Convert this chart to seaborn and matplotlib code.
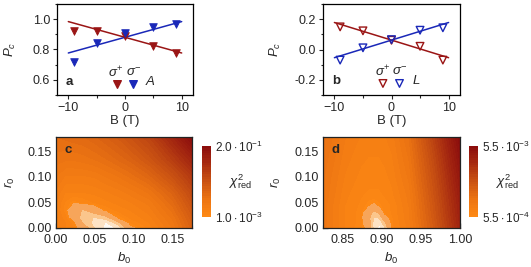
import numpy as np
import pandas as pd
import matplotlib
matplotlib.use("Agg")
import matplotlib.pyplot as plt
import seaborn as sns
from matplotlib.colors import LinearSegmentedColormap, ListedColormap, Normalize
from matplotlib.cm import ScalarMappable
from matplotlib.ticker import MultipleLocator, FormatStrFormatter

# ---------------- data ----------------
field_B = [-9, -5, 0, 5, 9]
a_sigma_plus = [0.924, 0.924, 0.888, 0.821, 0.777]
a_sigma_minus = [0.716, 0.844, 0.906, 0.946, 0.966]
b_sigma_plus = [0.149, 0.123, 0.061, 0.021, -0.070]
b_sigma_minus = [-0.070, 0.011, 0.065, 0.127, 0.143]
fit_B = [-10, 10]
a_fit_plus = [0.984, 0.777]
a_fit_minus = [0.777, 0.984]
b_fit_plus = [0.178, -0.054]
b_fit_minus = [-0.054, 0.178]

# chi^2 maps (level 0 = colorbar bottom, 1 = colorbar top, <0 = lighter than bottom)
c_b0 = [0, 0.012, 0.022, 0.035, 0.05, 0.065, 0.08, 0.095, 0.12, 0.15, 0.175]
c_r0 = [0, 0.01, 0.02, 0.035, 0.05, 0.07, 0.1, 0.135, 0.178]
c_level = [
    [0.12, 0.10, 0.07, -0.11, -0.62, -0.95, -0.80, -0.05, 0.08, 0.20, 0.38],
    [0.13, 0.10, 0.05, -0.40, -0.70, -0.86, -0.45, 0.03, 0.10, 0.22, 0.40],
    [0.14, 0.08, -0.10, -0.50, -0.62, -0.45, 0.00, 0.07, 0.12, 0.24, 0.42],
    [0.14, 0.04, -0.20, -0.38, -0.14, 0.04, 0.08, 0.10, 0.15, 0.28, 0.46],
    [0.14, 0.06, 0.01, 0.04, 0.07, 0.09, 0.11, 0.13, 0.18, 0.32, 0.50],
    [0.16, 0.10, 0.10, 0.10, 0.11, 0.13, 0.15, 0.18, 0.24, 0.38, 0.56],
    [0.20, 0.16, 0.16, 0.16, 0.17, 0.20, 0.23, 0.27, 0.35, 0.50, 0.66],
    [0.25, 0.24, 0.24, 0.25, 0.27, 0.30, 0.34, 0.38, 0.48, 0.64, 0.80],
    [0.30, 0.31, 0.32, 0.33, 0.36, 0.40, 0.44, 0.50, 0.60, 0.80, 1.00],
]
d_b0 = [0.825, 0.853, 0.873, 0.883, 0.890, 0.897, 0.904, 0.913, 0.935, 0.965, 1.0]
d_r0 = [0, 0.01, 0.02, 0.03, 0.045, 0.065, 0.1, 0.14, 0.178]
d_level = [
    [0.22, 0.10, 0.04, -0.05, -0.70, -0.92, -0.62, 0.05, 0.15, 0.42, 0.80],
    [0.22, 0.10, 0.05, -0.19, -0.70, -0.80, -0.41, 0.06, 0.15, 0.43, 0.81],
    [0.22, 0.10, 0.05, -0.25, -0.62, -0.58, -0.11, 0.06, 0.16, 0.44, 0.82],
    [0.22, 0.10, 0.05, -0.19, -0.45, -0.30, 0.04, 0.07, 0.16, 0.45, 0.83],
    [0.22, 0.10, 0.06, 0.01, -0.03, 0.02, 0.05, 0.07, 0.17, 0.46, 0.84],
    [0.23, 0.11, 0.07, 0.06, 0.06, 0.06, 0.07, 0.09, 0.18, 0.48, 0.86],
    [0.24, 0.13, 0.09, 0.08, 0.08, 0.08, 0.09, 0.11, 0.21, 0.51, 0.90],
    [0.26, 0.15, 0.11, 0.10, 0.10, 0.10, 0.11, 0.13, 0.24, 0.55, 0.95],
    [0.28, 0.17, 0.13, 0.12, 0.12, 0.12, 0.13, 0.15, 0.27, 0.60, 1.00],
]
c_cbar_labels = [r"$1.0\cdot10^{-3}$", r"$2.0\cdot10^{-1}$"]
d_cbar_labels = [r"$5.5\cdot10^{-4}$", r"$5.5\cdot10^{-3}$"]

# ---------------- style ----------------
sns.set_theme(style="ticks")
plt.rcParams["font.family"] = ["Liberation Sans", "DejaVu Sans"]
plt.rcParams["mathtext.fontset"] = "custom"
plt.rcParams["mathtext.rm"] = "Liberation Sans"
plt.rcParams["mathtext.it"] = "Liberation Sans:italic"
plt.rcParams["mathtext.bf"] = "Liberation Sans:bold"
plt.rcParams["axes.edgecolor"] = "black"
plt.rcParams["axes.linewidth"] = 0.9

RED = "#9a1515"
BLUE = "#1a28b8"
TICK_FS = 9
LAB_FS = 9.5

fig = plt.figure(figsize=(5.31, 2.67), dpi=100)
W, H = 531, 267


def px_axes(x0, y0, x1, y1):
    return fig.add_axes([x0 / W, 1 - y1 / H, (x1 - x0) / W, (y1 - y0) / H])


ax_a = px_axes(57, 4, 193, 95)
ax_b = px_axes(323, 4, 460, 95)
ax_c = px_axes(56, 137, 192, 228)
ax_d = px_axes(323, 137, 460, 228)
cax_c = px_axes(202, 146, 211, 217)
cax_d = px_axes(469, 146, 478, 217)


def line_panel(ax, yp, ym, fp, fm, filled, ylim, ymaj, letter, tag, leg_y, sig_y, tag_y):
    df = pd.DataFrame({
        "B": field_B * 2,
        "Pc": yp + ym,
        "pol": ["s+"] * len(field_B) + ["s-"] * len(field_B),
    })
    ax.plot(fit_B, fp, color=RED, lw=1.1, zorder=2)
    ax.plot(fit_B, fm, color=BLUE, lw=1.1, zorder=2)
    for pol, col in (("s+", RED), ("s-", BLUE)):
        sub = df[df.pol == pol]
        if filled:
            sns.scatterplot(data=sub, x="B", y="Pc", ax=ax, marker="v", s=30,
                            color=col, edgecolor=col, linewidth=0.6, zorder=3, legend=False)
        else:
            sns.scatterplot(data=sub, x="B", y="Pc", ax=ax, marker="v", s=30,
                            facecolor="none", edgecolor=col, linewidth=1.0, zorder=3, legend=False)
    # legend-like annotation
    for xx, col in ((-1.5, RED), (1.4, BLUE)):
        if filled:
            ax.scatter([xx], [leg_y], marker="v", s=30, color=col, zorder=3)
        else:
            ax.scatter([xx], [leg_y], marker="v", s=30, facecolor="none", edgecolor=col,
                       linewidths=1.0, zorder=3)
    ax.text(-1.6, sig_y, r"$\sigma^{+}$", ha="center", va="center", fontsize=9.5)
    ax.text(1.5, sig_y, r"$\sigma^{-}$", ha="center", va="center", fontsize=9.5)
    ax.text(4.4, tag_y, tag, ha="center", va="center", fontsize=9.5, style="italic")
    ax.text(-10.4, tag_y, letter, ha="left", va="center", fontsize=9.5, fontweight="bold")
    ax.set_xlim(-12, 12)
    ax.set_ylim(*ylim)
    ax.xaxis.set_major_locator(MultipleLocator(10))
    ax.xaxis.set_minor_locator(MultipleLocator(5))
    ax.yaxis.set_major_locator(MultipleLocator(ymaj))
    ax.yaxis.set_minor_locator(MultipleLocator(ymaj / 2))
    ax.yaxis.set_major_formatter(FormatStrFormatter("%.1f"))
    ax.tick_params(which="major", direction="out", length=3, width=0.8, labelsize=TICK_FS, pad=2)
    ax.tick_params(which="minor", direction="out", length=1.8, width=0.8)
    ax.set_xlabel("B (T)", fontsize=LAB_FS)
    ax.set_ylabel(r"$P_c$", fontsize=LAB_FS)
    ax.xaxis.set_label_coords(0.5, -0.22)
    ax.yaxis.set_label_coords(-0.29, 0.5)
    for s in ax.spines.values():
        s.set_visible(True)


line_panel(ax_a, a_sigma_plus, a_sigma_minus, a_fit_plus, a_fit_minus, True,
           (0.5, 1.1), 0.2, "a", "A", 0.571, 0.649, 0.586)
ax_a.set_yticks([0.6, 0.8, 1.0])
line_panel(ax_b, b_sigma_plus, b_sigma_minus, b_fit_plus, b_fit_minus, False,
           (-0.3, 0.3), 0.2, "b", "L", -0.224, -0.148, -0.207)

# ---------------- heat maps ----------------
upper_cmap = LinearSegmentedColormap.from_list("chi", [
    (0.00, "#ff8a14"),
    (0.25, "#ec7412"),
    (0.55, "#c44c12"),
    (0.80, "#a22410"),
    (1.00, "#8a0c0c"),
])
N_UP = 30
upper_colors = [upper_cmap((i + 0.5) / N_UP) for i in range(N_UP)]
low_colors = ["#fffaf4", "#fde2c4", "#fbc68c", "#f7a55a"]
levels = [-1.0, -0.84, -0.6, -0.35] + list(np.linspace(0, 1.0, N_UP + 1)[:-1]) + [1.001]


def heat_panel(ax, cax, b0, r0, lev, xlim, letter, cb_labels):
    B0, R0 = np.meshgrid(b0, r0)
    ax.contourf(B0, R0, np.array(lev), levels=levels, colors=low_colors + upper_colors)
    ax.set_xlim(*xlim)
    ax.set_ylim(0, 0.178)
    ax.xaxis.set_major_locator(MultipleLocator(0.05))
    ax.xaxis.set_minor_locator(MultipleLocator(0.025))
    ax.yaxis.set_major_locator(MultipleLocator(0.05))
    ax.yaxis.set_minor_locator(MultipleLocator(0.025))
    ax.xaxis.set_major_formatter(FormatStrFormatter("%.2f"))
    ax.yaxis.set_major_formatter(FormatStrFormatter("%.2f"))
    ax.tick_params(axis="x", which="major", direction="in", length=3.5, width=0.9,
                   labelsize=TICK_FS, pad=4.5)
    ax.tick_params(axis="y", which="major", direction="in", length=3.5, width=0.9,
                   labelsize=TICK_FS, pad=3)
    ax.tick_params(which="minor", direction="in", length=2, width=0.8)
    ax.set_xlabel(r"$b_0$", fontsize=LAB_FS)
    ax.set_ylabel(r"$r_0$", fontsize=LAB_FS)
    ax.xaxis.set_label_coords(0.5, -0.255)
    ax.yaxis.set_label_coords(-0.29, 0.5)
    ax.text(0.06, 0.86, letter, transform=ax.transAxes, fontsize=9.5, fontweight="bold",
            ha="left", va="center")
    for s in ax.spines.values():
        s.set_visible(True)
        s.set_color("#222222")
    cb = fig.colorbar(ScalarMappable(norm=Normalize(0, 1),
                                     cmap=ListedColormap(upper_colors)), cax=cax)
    cb.outline.set_visible(False)
    cb.set_ticks([0, 1])
    cb.set_ticklabels(cb_labels)
    cax.tick_params(length=0, labelsize=8.5, pad=3)
    cax.text(3.0, 0.5, r"$\chi^2_{\rm red}$", transform=cax.transAxes, fontsize=9.5,
             ha="left", va="center")


heat_panel(ax_c, cax_c, c_b0, c_r0, c_level, (0, 0.175), "c", c_cbar_labels)
heat_panel(ax_d, cax_d, d_b0, d_r0, d_level, (0.825, 1.0), "d", d_cbar_labels)

fig.savefig("out.png", dpi=100)
